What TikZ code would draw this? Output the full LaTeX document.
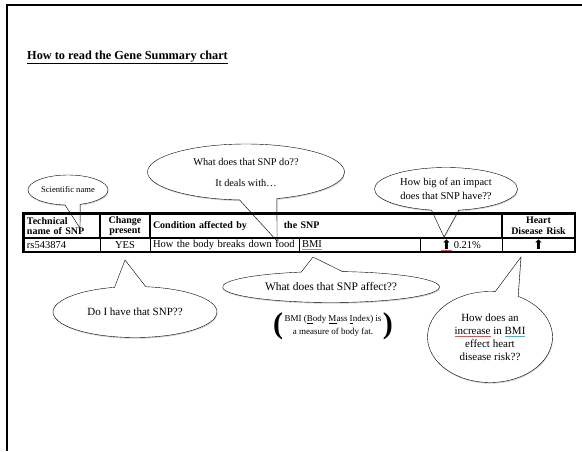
\documentclass[tikz,border=0pt]{standalone}
\usepackage{fontspec}
\setmainfont{Liberation Serif}
\newfontfamily\arrowfont{DejaVu Sans}
\usetikzlibrary{shapes.callouts,shadows,positioning}

\definecolor{spellred}{RGB}{205,90,90}
\definecolor{spellblue}{RGB}{90,170,205}
\newlength\ulwd
\newcommand{\colorline}[2]{\settowidth{\ulwd}{#2}\rlap{\textcolor{#1}{\rule[-0.45ex]{\ulwd}{0.8pt}}}#2}
\newcommand{\uparr}{\raisebox{-0.5pt}{\arrowfont\fontsize{13}{13}\selectfont ⬆}}

\begin{document}
\begin{tikzpicture}[x=1pt, y=-1pt,
    bubble/.style={ellipse callout, draw, fill=white, inner sep=0pt, align=center,
      callout pointer arc=22,
      drop shadow={shadow xshift=0.5pt, shadow yshift=-1.2pt, opacity=0.35},
      font=\fontsize{11}{13}\selectfont},
    hcell/.style={draw, line width=1.5pt, minimum height=24pt, inner xsep=3pt,
      inner ysep=0pt, font=\fontsize{10}{10.5}\selectfont\bfseries},
    dcell/.style={draw, line width=0.7pt, minimum height=14pt, inner xsep=3pt,
      inner ysep=0pt, font=\fontsize{10.5}{11}\selectfont},
    paren/.style={inner sep=0pt, font=\fontsize{30}{30}\selectfont\bfseries}]
  \useasboundingbox (0,0) rectangle (582,451);
  \draw[line width=2pt] (7,451) -- (7,5) -- (582,5);

  \node[anchor=base west, inner sep=0pt, font=\fontsize{12.3}{14}\selectfont\bfseries]
    (title) at (27,59) {\underline{How to read the Gene Summary chart}};

  % where the bubbles point
  \coordinate (tipSci) at (80,228);
  \coordinate (tipDo) at (277,241);
  \coordinate (tipImp) at (444,237);
  \coordinate (tipHave) at (125,260);
  \coordinate (tipAff) at (313,257);
  \coordinate (tipRisk) at (521,257);

  % bubbles
  \node[bubble, minimum width=80pt, minimum height=30pt, font=\fontsize{8.6}{10}\selectfont,
    callout absolute pointer={(tipSci)}] (sci) at (68,190) {Scientific name};
  \node[bubble, minimum width=197pt, minimum height=56pt, font=\fontsize{10.3}{21}\selectfont,
    callout absolute pointer={(tipDo)}] (doBub) at (246,172) {What does that SNP do??\\It deals with\dots};
  \node[bubble, minimum width=143pt, minimum height=43pt, font=\fontsize{10.5}{14}\selectfont,
    callout absolute pointer={(tipImp)}] (impBub) at (446,189) {How big of an impact\\does that SNP have??};
  \node[bubble, minimum width=164pt, minimum height=51pt,
    callout absolute pointer={(tipHave)}] (haveBub) at (135,312) {Do I have that SNP??};
  \node[bubble, minimum width=217pt, minimum height=31pt, font=\fontsize{11.5}{13}\selectfont,
    callout absolute pointer={(tipAff)}] (affBub) at (331,287) {What does that SNP affect??};
  \node[bubble, minimum width=125pt, minimum height=91pt,
    callout absolute pointer={(tipRisk)}] (riskBub) at (490,337)
    {How does an\\\colorline{spellred}{increase} in \colorline{spellblue}{BMI}\\effect heart\\disease risk??};

  % data row
  \node[dcell, text width=70pt, align=left] (dTech) at (62,245) {rs543874};
  \node[dcell, text width=44pt, align=center] (dChg) at (125,245) {YES};
  \node[dcell, text width=143pt, align=left] (dCond) at (224.5,245) {How the body breaks down food};
  \node[dcell, text width=115pt, align=left] (dBmi) at (359.5,245) {\colorline{spellblue}{BMI}};
  \node[dcell, text width=76pt, align=center] (dImp) at (461,245) {\colorline{spellred}{\uparr}\,0.21\%};
  \node[dcell, text width=67pt, align=center] (dRisk) at (538.5,245) {\uparr};

  % header row
  \node[hcell, text width=70pt, align=left] (hTech) at (62,226) {Technical\\name of SNP};
  \node[hcell, text width=44pt, align=center] (hChg) at (125,226) {Change\\present};
  \node[hcell, text width=346pt, align=left] (hCond) at (326,226)
    {Condition affected by\hspace*{37pt}the SNP};
  \node[hcell, text width=67pt, align=center] (hRisk) at (538.5,226) {Heart\\Disease Risk};
  \draw[line width=1.8pt] (hTech.north west) rectangle (dRisk.south east);

  % note on BMI
  \node[align=center, inner sep=1pt, font=\fontsize{9}{13}\selectfont] (bmiNote) at (333,326)
    {BMI (\underline{B}ody \underline{M}ass \underline{I}ndex) is\\a measure of body fat.};
  \node[paren, left=0pt of bmiNote] (lpar) {(};
  \node[paren, right=0pt of bmiNote] (rpar) {)};
\end{tikzpicture}
\end{document}
